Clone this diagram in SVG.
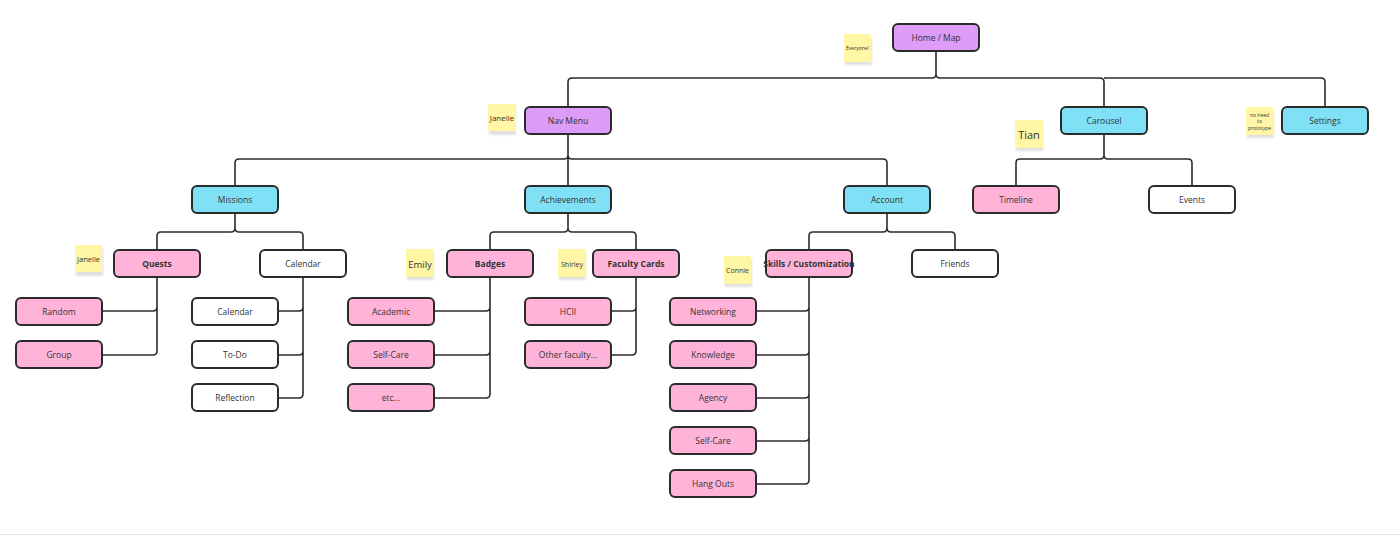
<svg xmlns="http://www.w3.org/2000/svg" width="1400" height="535" viewBox="0 0 1400 535">
<defs>
<style>
.n rect{stroke:#2b2b2b;stroke-width:2}
.p rect{fill:#dc9cf8}
.c rect{fill:#80e1f6}
.k rect{fill:#ffb3d9}
.w rect{fill:#ffffff}
.n text{font-family:"Open Sans","Liberation Sans",sans-serif;font-size:8.5px;fill:#333;text-anchor:middle;dominant-baseline:central}
.b text{font-weight:bold}
.s rect.paper{fill:#fff6a6}
.s rect.sh{fill:#000;opacity:0.12}
.s text{font-family:"Open Sans","Liberation Sans",sans-serif;fill:#333;text-anchor:middle;dominant-baseline:central}
#connectors path{fill:none;stroke:#2b2b2b;stroke-width:1.6}
</style>
<filter id="blur" x="-20%" y="-20%" width="140%" height="140%"><feGaussianBlur stdDeviation="1.2"/></filter>
</defs>
<rect width="1400" height="535" fill="#ffffff"/>
<line x1="0" y1="534.5" x2="1400" y2="534.5" stroke="#e6e6e6" stroke-width="1"/>
<g id="connectors">
<path d="M936 51 V74 Q936 78 932 78 H572 Q568 78 568 82 V107 M936 74 Q936 78 940 78 H1100 Q1104 78 1104 82 V107 M1104 78 H1321 Q1325 78 1325 82 V107"/>
<path d="M568 134 V155 Q568 159 564 159 H239 Q235 159 235 163 V186 M568 155 V186 M568 155 Q568 159 572 159 H883 Q887 159 887 163 V186"/>
<path d="M1104 134 V155 Q1104 159 1100 159 H1020 Q1016 159 1016 163 V186 M1104 155 Q1104 159 1108 159 H1188 Q1192 159 1192 163 V186"/>
<path d="M235 213 V228 Q235 232 231 232 H161 Q157 232 157 236 V250 M235 228 Q235 232 239 232 H299 Q303 232 303 236 V250"/>
<path d="M568 213 V228 Q568 232 564 232 H494 Q490 232 490 236 V250 M568 228 Q568 232 572 232 H632 Q636 232 636 236 V250"/>
<path d="M887 213 V228 Q887 232 883 232 H813 Q809 232 809 236 V250 M887 228 Q887 232 891 232 H951 Q955 232 955 236 V250"/>
<path d="M157 277 V351 Q157 355 153 355 H102 M157 307 Q157 311 153 311 H102"/>
<path d="M303 277 V394 Q303 398 299 398 H278 M303 351 Q303 355 299 355 H278 M303 307 Q303 311 299 311 H278"/>
<path d="M490 277 V394 Q490 398 486 398 H434 M490 351 Q490 355 486 355 H434 M490 307 Q490 311 486 311 H434"/>
<path d="M636 277 V351 Q636 355 632 355 H611 M636 307 Q636 311 632 311 H611"/>
<path d="M809 277 V480 Q809 484 805 484 H756 M809 437 Q809 441 805 441 H756 M809 394 Q809 398 805 398 H756 M809 351 Q809 355 805 355 H756 M809 307 Q809 311 805 311 H756"/>
</g>
<g id="home" class="n p"><rect x="893" y="24" width="86" height="27" rx="5"/><text x="936" y="37.5">Home / Map</text></g>
<g id="navmenu" class="n p"><rect x="525" y="107" width="86" height="27" rx="5"/><text x="568" y="120.5">Nav Menu</text></g>
<g id="carousel" class="n c"><rect x="1061" y="107" width="86" height="27" rx="5"/><text x="1104" y="120.5">Carousel</text></g>
<g id="settings" class="n c"><rect x="1282" y="107" width="86" height="27" rx="5"/><text x="1325" y="120.5">Settings</text></g>
<g id="missions" class="n c"><rect x="192" y="186" width="86" height="27" rx="5"/><text x="235" y="199.5">Missions</text></g>
<g id="achievements" class="n c"><rect x="525" y="186" width="86" height="27" rx="5"/><text x="568" y="199.5">Achievements</text></g>
<g id="account" class="n c"><rect x="844" y="186" width="86" height="27" rx="5"/><text x="887" y="199.5">Account</text></g>
<g id="timeline" class="n k"><rect x="973" y="186" width="86" height="27" rx="5"/><text x="1016" y="199.5">Timeline</text></g>
<g id="events" class="n w"><rect x="1149" y="186" width="86" height="27" rx="5"/><text x="1192" y="199.5">Events</text></g>
<g id="quests" class="n k b"><rect x="114" y="250" width="86" height="27" rx="5"/><text x="157" y="263.5">Quests</text></g>
<g id="calendar" class="n w"><rect x="260" y="250" width="86" height="27" rx="5"/><text x="303" y="263.5">Calendar</text></g>
<g id="badges" class="n k b"><rect x="447" y="250" width="86" height="27" rx="5"/><text x="490" y="263.5">Badges</text></g>
<g id="facultycards" class="n k b"><rect x="593" y="250" width="86" height="27" rx="5"/><text x="636" y="263.5">Faculty Cards</text></g>
<g id="skills" class="n k b"><rect x="766" y="250" width="86" height="27" rx="5"/><text x="809" y="263.5">Skills / Customization</text></g>
<g id="friends" class="n w"><rect x="912" y="250" width="86" height="27" rx="5"/><text x="955" y="263.5">Friends</text></g>
<g id="random" class="n k"><rect x="16" y="298" width="86" height="27" rx="5"/><text x="59" y="311.5">Random</text></g>
<g id="group" class="n k"><rect x="16" y="341" width="86" height="27" rx="5"/><text x="59" y="354.5">Group</text></g>
<g id="calendar2" class="n w"><rect x="192" y="298" width="86" height="27" rx="5"/><text x="235" y="311.5">Calendar</text></g>
<g id="todo" class="n w"><rect x="192" y="341" width="86" height="27" rx="5"/><text x="235" y="354.5">To-Do</text></g>
<g id="reflection" class="n w"><rect x="192" y="384" width="86" height="27" rx="5"/><text x="235" y="397.5">Reflection</text></g>
<g id="academic" class="n k"><rect x="348" y="298" width="86" height="27" rx="5"/><text x="391" y="311.5">Academic</text></g>
<g id="selfcare1" class="n k"><rect x="348" y="341" width="86" height="27" rx="5"/><text x="391" y="354.5">Self-Care</text></g>
<g id="etc" class="n k"><rect x="348" y="384" width="86" height="27" rx="5"/><text x="391" y="397.5">etc...</text></g>
<g id="hcii" class="n k"><rect x="525" y="298" width="86" height="27" rx="5"/><text x="568" y="311.5">HCII</text></g>
<g id="otherfaculty" class="n k"><rect x="525" y="341" width="86" height="27" rx="5"/><text x="568" y="354.5">Other faculty...</text></g>
<g id="networking" class="n k"><rect x="670" y="298" width="86" height="27" rx="5"/><text x="713" y="311.5">Networking</text></g>
<g id="knowledge" class="n k"><rect x="670" y="341" width="86" height="27" rx="5"/><text x="713" y="354.5">Knowledge</text></g>
<g id="agency" class="n k"><rect x="670" y="384" width="86" height="27" rx="5"/><text x="713" y="397.5">Agency</text></g>
<g id="selfcare2" class="n k"><rect x="670" y="427" width="86" height="27" rx="5"/><text x="713" y="440.5">Self-Care</text></g>
<g id="hangouts" class="n k"><rect x="670" y="470" width="86" height="27" rx="5"/><text x="713" y="483.5">Hang Outs</text></g>
<g id="note-everyone" class="s"><rect class="sh" x="845" y="38" width="27" height="27" filter="url(#blur)"/><rect class="paper" x="844" y="34" width="27" height="28"/><text x="857.5" y="48" font-size="5">Everyone!</text></g>
<g id="note-janelle1" class="s"><rect class="sh" x="489" y="108" width="27" height="27" filter="url(#blur)"/><rect class="paper" x="488" y="104" width="28" height="27"/><text x="502" y="117.5" font-size="8">Janelle</text></g>
<g id="note-tian" class="s"><rect class="sh" x="1016" y="124" width="27" height="27" filter="url(#blur)"/><rect class="paper" x="1015" y="120" width="28" height="28"/><text x="1029" y="134" font-size="11">Tian</text></g>
<g id="note-noneed" class="s"><rect class="sh" x="1247" y="111" width="27" height="27" filter="url(#blur)"/><rect class="paper" x="1246" y="107" width="27" height="28"/><text x="1259.5" y="114.5" font-size="5">no need</text><text x="1259.5" y="121" font-size="5">to</text><text x="1259.5" y="127.5" font-size="5">prototype</text></g>
<g id="note-janelle2" class="s"><rect class="sh" x="76" y="249" width="27" height="27" filter="url(#blur)"/><rect class="paper" x="75" y="245" width="27" height="27"/><text x="88.5" y="259" font-size="7.5">Janelle</text></g>
<g id="note-emily" class="s"><rect class="sh" x="407" y="253" width="27" height="27" filter="url(#blur)"/><rect class="paper" x="406" y="249" width="28" height="28"/><text x="420" y="264" font-size="9.5">Emily</text></g>
<g id="note-shirley" class="s"><rect class="sh" x="559" y="253" width="27" height="27" filter="url(#blur)"/><rect class="paper" x="558" y="249" width="28" height="28"/><text x="572" y="264" font-size="7">Shirley</text></g>
<g id="note-connie" class="s"><rect class="sh" x="725" y="260" width="27" height="27" filter="url(#blur)"/><rect class="paper" x="724" y="256" width="27" height="28"/><text x="737.5" y="270.5" font-size="7">Connie</text></g>
</svg>
